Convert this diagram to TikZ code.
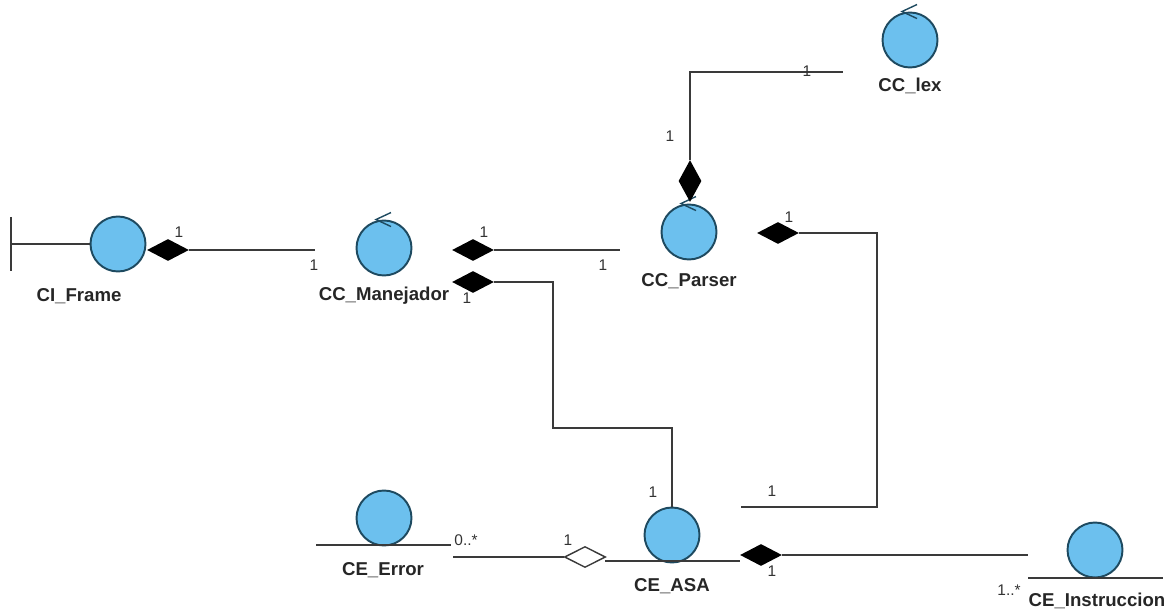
\documentclass[tikz,border=0pt]{standalone}
\usepackage{fontspec}
\setmainfont{Liberation Sans}
\usetikzlibrary{shapes.geometric}
\definecolor{ballblue}{HTML}{6CC0EE}
\definecolor{balledge}{HTML}{1E4A60}
\definecolor{wirecol}{HTML}{3A3A3A}
\tikzset{
    ball/.style = {circle, draw = balledge, fill = ballblue, line width = 1.1pt, inner sep = 0pt, minimum size = 1.1cm},
    wire/.style = {draw = wirecol, line width = 1pt},
    solidrhomb/.style = {diamond, fill = black, inner sep = 0pt, minimum width = 0.84cm, minimum height = 0.44cm},
    openrhomb/.style = {diamond, draw = wirecol, fill = white, line width = 0.8pt, inner sep = 0pt, minimum width = 0.82cm, minimum height = 0.42cm},
    uprhomb/.style = {diamond, fill = black, inner sep = 0pt, minimum width = 0.46cm, minimum height = 0.84cm},
    classname/.style = {font = \bfseries\fontsize{10.6}{12}\selectfont, text = black!85, inner sep = 0pt},
    mult/.style = {font = \fontsize{8.8}{10}\selectfont, text = black!80, inner sep = 0pt}
}
\begin{document}
\begin{tikzpicture}[x = 0.02cm, y = -0.02cm]
            \useasboundingbox (0,0) rectangle (1172,614);
            % the circles
            \node[ball] (frame) at (118,244) {};
            \node[ball] (manejador) at (384,248) {};
            \node[ball] (parser) at (689,232) {};
            \node[ball] (lex) at (910,40) {};
            \node[ball] (error) at (384,518) {};
            \node[ball] (asa) at (672,535) {};
            \node[ball] (instruccion) at (1095,550) {};
            % control arrows on top
            \foreach \ctrl in {manejador, parser, lex}
                \draw[balledge, line width = 0.8pt] ([shift = {(7,-7)}]\ctrl.north) -- ([shift = {(-8,0)}]\ctrl.north) -- ([shift = {(7,7)}]\ctrl.north);
            % boundary of the frame
            \coordinate (frameTop) at (11,217);
            \coordinate (frameBot) at (11,271);
            \coordinate (frameStem) at (11,244);
            \draw[wire] (frameTop) -- (frameBot);
            \draw[wire] (frameStem) -- (frame.west);
            % entity underlines
            \coordinate (errorL) at (316,545);
            \coordinate (errorR) at (451,545);
            \coordinate (asaL) at (605,561);
            \coordinate (asaR) at (740,561);
            \coordinate (instrL) at (1028,578);
            \coordinate (instrR) at (1163,578);
            \draw[wire] (errorL) -- (errorR);
            \draw[wire] (asaL) -- (asaR);
            \draw[wire] (instrL) -- (instrR);
            % rhombs
            \node[solidrhomb] (frameRh) at (168,250) {};
            \node[solidrhomb] (manRhA) at (473,250) {};
            \node[solidrhomb] (manRhB) at (473,282) {};
            \node[uprhomb] (parserRhA) at (690,181) {};
            \node[solidrhomb] (parserRhB) at (778,233) {};
            \node[openrhomb] (asaRhA) at (585,557) {};
            \node[solidrhomb] (asaRhB) at (761,555) {};
            % free ends
            \coordinate (manEnd) at (315,250);
            \coordinate (parserEnd) at (620,250);
            \coordinate (lexEnd) at (843,72);
            \coordinate (asaEnd) at (741,507);
            \coordinate (errorEnd) at (453,557);
            \coordinate (instrEnd) at (1028,555);
            % connectors
            \draw[wire] (frameRh.east) -- (manEnd);
            \draw[wire] (manRhA.east) -- (parserEnd);
            \draw[wire] (manRhB.east) -- (553,282) -- (553,428) -- (672,428) -- (asa.north);
            \draw[wire] (parserRhA.north) -- (690,72) -- (lexEnd);
            \draw[wire] (parserRhB.east) -- (877,233) -- (877,507) -- (asaEnd);
            \draw[wire] (errorEnd) -- (asaRhA.west);
            \draw[wire] (asaRhB.east) -- (instrEnd);
            % class names
            \node[classname] (frameName) at (79,296) {CI\_Frame};
            \node[classname] (manName) at (384,296) {CC\_Manejador};
            \node[classname] (parserName) at (689,281) {CC\_Parser};
            \node[classname] (lexName) at (910,86) {CC\_lex};
            \node[classname] (errorName) at (383,570) {CE\_Error};
            \node[classname] (asaName) at (672,586) {CE\_ASA};
            \node[classname] (instrName) at (1097,601) {CE\_Instruccion};
            % multiplicities
            \node[mult] (m1) at (179,232) {1};
            \node[mult] (m2) at (314,265) {1};
            \node[mult] (m3) at (484,232) {1};
            \node[mult] (m4) at (603,265) {1};
            \node[mult] (m5) at (467,298) {1};
            \node[mult] (m6) at (789,217) {1};
            \node[mult] (m7) at (670,136) {1};
            \node[mult] (m8) at (807,71) {1};
            \node[mult] (m9) at (653,492) {1};
            \node[mult] (m10) at (772,491) {1};
            \node[mult] (m11) at (568,540) {1};
            \node[mult] (m12) at (466,540) {0..*};
            \node[mult] (m13) at (772,571) {1};
            \node[mult] (m14) at (1009,590) {1..*};
        \end{tikzpicture}
\end{document}
